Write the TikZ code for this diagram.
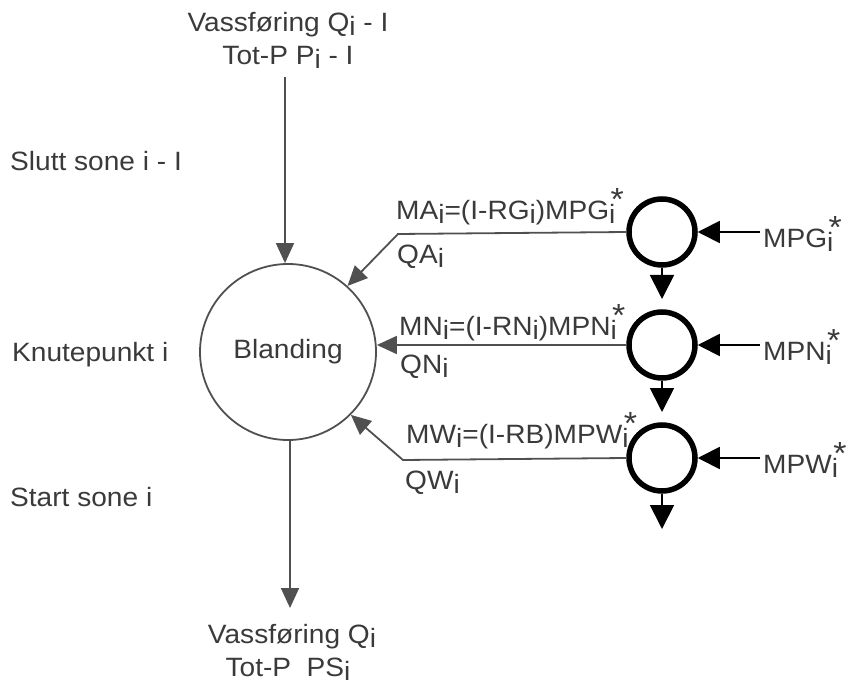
\documentclass[tikz,border=0pt]{standalone}
\usepackage{fontspec}
\setmainfont{Liberation Sans}[FakeStretch=1.06]
\usetikzlibrary{arrows.meta}
\definecolor{txt}{HTML}{3A3A3A}
\definecolor{ln}{HTML}{505050}
\newcommand\sbi{\raisebox{-4pt}{i}}
\newcommand\sbistar{\rlap{\raisebox{-4pt}{i}}\kern1.5pt\raisebox{9pt}{\fontsize{32}{32}\selectfont *}}
\begin{document}
\begin{tikzpicture}[x=1pt,y=-1pt,
  font=\fontsize{26.5}{30}\selectfont, text=txt,
  lbl/.style={inner sep=0pt, anchor=base west},
  ctr/.style={inner sep=0pt, anchor=base},
  mix/.style={circle, draw=ln, line width=1.8pt, minimum size=176pt, inner sep=0pt},
  src/.style={circle, draw=black, line width=5.5pt, minimum size=66pt, inner sep=0pt},
  flow/.style={draw=ln, line width=1.8pt, -{Triangle[length=20pt,width=18pt,fill=ln]}},
  blk/.style={draw=black, line width=1.8pt, -{Triangle[length=22pt,width=22pt]}},
  blkd/.style={draw=black, line width=1.8pt, -{Triangle[length=24pt,width=24pt]}}
]
\useasboundingbox (0,0) rectangle (848,692);

% main mixing node
\node[mix] (big) at (288,352) {Blanding};

% top and bottom texts
\node[ctr] (top1) at (288,32) {Vassføring Q\sbi{} - I};
\node[ctr] (top2) at (288,65) {Tot-P P\sbi{} - I};
\node[ctr] (bot1) at (292,643) {Vassføring Q\sbi};
\node[ctr] (bot2) at (288,676) {Tot-P\ \ PS\sbi};

\coordinate (inTop) at (285,77);
\coordinate (outBot) at (290,608);
\draw[flow] (inTop) -- (inTop |- big.north);
\draw[flow] (big.south -| outBot) -- (outBot);

% left labels
\node[lbl] (slutt) at (10,171) {Slutt sone i - I};
\node[lbl] (knute) at (12,361) {Knutepunkt i};
\node[lbl] (start) at (10,506) {Start sone i};

% source circles
\node[src] (c1) at (662,232) {};
\node[src] (c2) at (662,345) {};
\node[src] (c3) at (662,458) {};

% right inputs
\node[lbl, anchor=west] (mpg) at (763,234) {MPG\sbistar};
\node[lbl, anchor=west] (mpn) at (763,347) {MPN\sbistar};
\node[lbl, anchor=west] (mpw) at (763,460) {MPW\sbistar};
\coordinate (m1) at (760,232);
\coordinate (m2) at (760,345);
\coordinate (m3) at (760,458);
\draw[blk] (m1) -- (c1.east);
\draw[blk] (m2) -- (c2.east);
\draw[blk] (m3) -- (c3.east);

% downward outputs
\coordinate (d1) at (662,299);
\coordinate (d2) at (662,412);
\coordinate (d3) at (662,529);
\draw[blkd] (c1.south) -- (d1);
\draw[blkd] (c2.south) -- (d2);
\draw[blkd] (c3.south) -- (d3);

% flows into mixing node
\coordinate (k1) at (398,234);
\coordinate (k3) at (403,460);
\draw[flow] (c1.west) -- (k1) -- (big.48);
\draw[flow] (c2.west) -- (big.east |- c2.west);
\draw[flow] (c3.west) -- (k3) -- (big.-45);

% flow labels
\node[lbl] (ma) at (396,220) {MA\sbi=(I-RG\sbi)MPG\sbistar};
\node[lbl] (qa) at (397,264) {QA\sbi};
\node[lbl] (mn) at (399,335) {MN\sbi=(I-RN\sbi)MPN\sbistar};
\node[lbl] (qn) at (400,373) {QN\sbi};
\node[lbl] (mw) at (406,443) {MW\sbi=(I-RB)MPW\sbistar};
\node[lbl] (qw) at (405,489) {QW\sbi};
\end{tikzpicture}
\end{document}
